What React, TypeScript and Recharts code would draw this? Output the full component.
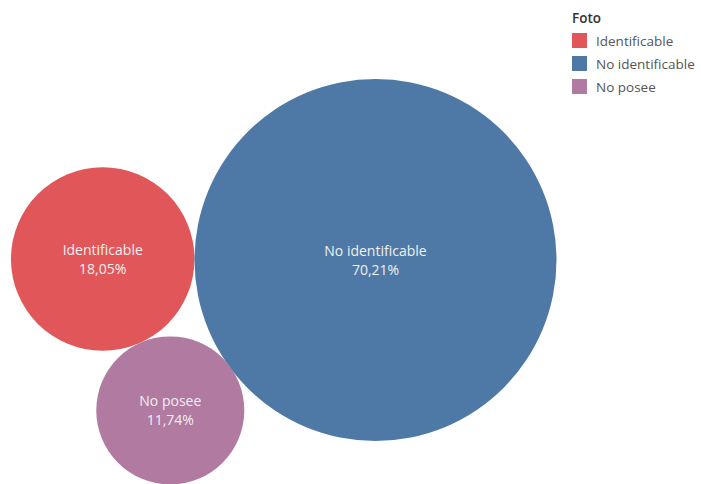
import { ScatterChart, Scatter, XAxis, YAxis } from 'recharts';

const categories = ['Identificable', 'No identificable', 'No posee'];
const shares = [18.05, 70.21, 11.74];
const shareLabels = ['18,05%', '70,21%', '11,74%'];
const colors = ['#e15759', '#4e79a7', '#b07aa1'];
const legendTitle = 'Foto';

const W = 701;
const H = 484;
const FONT = '"Open Sans", "DejaVu Sans", sans-serif';

// packed bubble layout: biggest in the middle, second tangent on its left,
// third tangent to both underneath
function packBubbles() {
  const maxShare = Math.max(...shares);
  const k = 181 / Math.sqrt(maxShare);
  const radii = shares.map((s) => k * Math.sqrt(s));
  const order = shares.map((_, i) => i).sort((a, b) => shares[b] - shares[a]);
  const pos: { x: number; y: number }[] = [];
  const [a, b, c] = order;
  pos[a] = { x: 375.5, y: 260 };
  pos[b] = { x: pos[a].x - radii[a] - radii[b], y: pos[a].y - 1 };
  const d = radii[a] + radii[b];
  const d1 = radii[b] + radii[c];
  const d2 = radii[a] + radii[c];
  const along = (d1 * d1 - d2 * d2 + d * d) / (2 * d);
  const h = Math.sqrt(d1 * d1 - along * along);
  pos[c] = { x: pos[b].x + along, y: pos[b].y + h };
  return categories.map((name, i) => ({
    name,
    share: shares[i],
    label: shareLabels[i],
    color: colors[i],
    x: pos[i].x,
    y: pos[i].y,
    r: radii[i],
  }));
}

const data = packBubbles();

function Bubble(props: any) {
  const { cx, cy, payload } = props;
  return (
    <g>
      <circle cx={cx} cy={cy} r={payload.r} fill={payload.color} />
      <text x={cx} y={cy - 4} textAnchor="middle" fill="#f0f0f0" fontSize={14} fontFamily={FONT}>
        {payload.name}
      </text>
      <text x={cx} y={cy + 15} textAnchor="middle" fill="#f0f0f0" fontSize={14} fontFamily={FONT}>
        {payload.label}
      </text>
    </g>
  );
}

function FotoLegend() {
  return (
    <div style={{ position: 'absolute', left: 572, top: 9, width: 130, fontFamily: FONT, fontSize: 13.5 }}>
      <div style={{ color: '#333', fontWeight: 600, marginBottom: 2 }}>{legendTitle}</div>
      {categories.map((c, i) => (
        <div key={c} style={{ display: 'flex', alignItems: 'center', height: 23 }}>
          <span
            style={{ width: 15, height: 15, background: colors[i], marginRight: 9, display: 'inline-block', flexShrink: 0 }}
          ></span>
          <span style={{ color: '#555', whiteSpace: 'nowrap' }}>{c}</span>
        </div>
      ))}
    </div>
  );
}

export default function App() {
  return (
    <div style={{ position: 'absolute', left: 0, top: 0, width: W, height: H, background: '#fff' }}>
      <ScatterChart width={W} height={H} margin={{ top: 0, right: 0, bottom: 0, left: 0 }}>
        <XAxis type="number" dataKey="x" domain={[0, W]} hide />
        <YAxis type="number" dataKey="y" domain={[0, H]} reversed hide />
        <Scatter data={data} shape={Bubble} isAnimationActive={false} />
      </ScatterChart>
      <FotoLegend />
    </div>
  );
}
